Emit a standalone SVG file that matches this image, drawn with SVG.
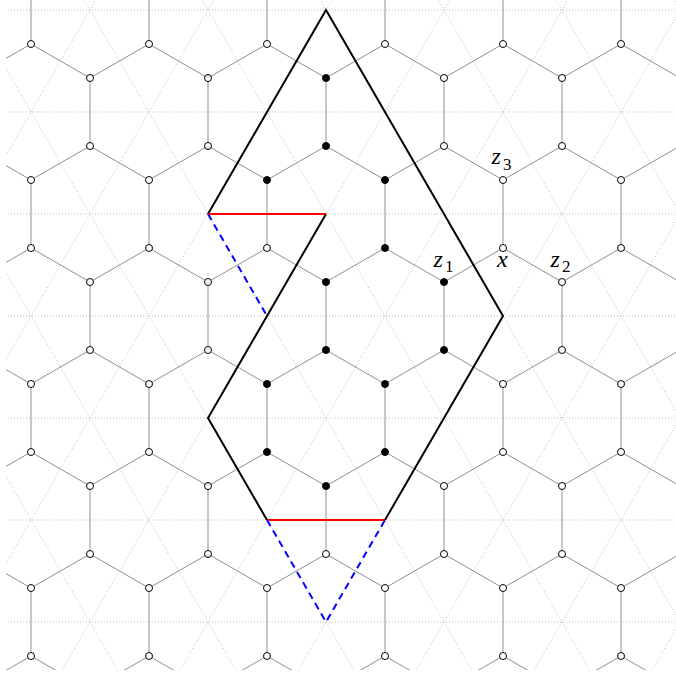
<svg xmlns="http://www.w3.org/2000/svg" width="676" height="676" viewBox="0 0 676 676">
<defs>
<clipPath id="clip"><rect x="6" y="-10" width="680" height="680"/></clipPath>
<style>
.grid{fill:none;stroke:#bdbdbd;stroke-width:1;stroke-dasharray:1 2}
.hex{fill:none;stroke:#8f8f8f;stroke-width:1}
.n{fill:#fff;stroke:#000;stroke-width:1}
.f{fill:#000;stroke:#000;stroke-width:1}
.poly{fill:none;stroke:#000;stroke-width:2;stroke-linejoin:miter}
.red{fill:none;stroke:#f00;stroke-width:2}
.blue{fill:none;stroke:#00f;stroke-width:2;stroke-dasharray:7 5}
</style>
</defs>
<rect x="0" y="0" width="676" height="676" fill="#fff"/>
<g id="background" clip-path="url(#clip)">
<path class="grid" d="M-100,10H800M-100,112H800M-100,214H800M-100,316H800M-100,418H800M-100,520H800M-100,622H800"/>
<path class="grid" d="M-441,-92L31,724M-323,-92L149,724M-205,-92L267,724M-87,-92L385,724M31,-92L503,724M149,-92L621,724M267,-92L739,724M385,-92L857,724M503,-92L975,724M621,-92L1093,724"/>
<path class="grid" d="M31,-92L-441,724M149,-92L-323,724M267,-92L-205,724M385,-92L-87,724M503,-92L31,724M621,-92L149,724M739,-92L267,724M857,-92L385,724M975,-92L503,724M1093,-92L621,724"/>
<path class="hex" d="M-28,78L31,44L90,78L149,44L208,78L267,44L326,78L385,44L444,78L503,44L562,78L621,44L680,78
M-28,146L31,180L90,146L149,180L208,146L267,180L326,146L385,180L444,146L503,180L562,146L621,180L680,146
M-28,282L31,248L90,282L149,248L208,282L267,248L326,282L385,248L444,282L503,248L562,282L621,248L680,282
M-28,350L31,384L90,350L149,384L208,350L267,384L326,350L385,384L444,350L503,384L562,350L621,384L680,350
M-28,486L31,452L90,486L149,452L208,486L267,452L326,486L385,452L444,486L503,452L562,486L621,452L680,486
M-28,554L31,588L90,554L149,588L208,554L267,588L326,554L385,588L444,554L503,588L562,554L621,588L680,554
M-28,690L31,656L90,690L149,656L208,690L267,656L326,690L385,656L444,690L503,656L562,690L621,656L680,690"/>
<path class="hex" d="M31,-24V44M149,-24V44M267,-24V44M385,-24V44M503,-24V44M621,-24V44
M90,78V146M208,78V146M326,78V146M444,78V146M562,78V146M680,78V146
M31,180V248M149,180V248M267,180V248M385,180V248M503,180V248M621,180V248
M90,282V350M208,282V350M326,282V350M444,282V350M562,282V350M680,282V350
M31,384V452M149,384V452M267,384V452M385,384V452M503,384V452M621,384V452
M90,486V554M208,486V554M326,486V554M444,486V554M562,486V554M680,486V554
M31,588V656M149,588V656M267,588V656M385,588V656M503,588V656M621,588V656"/>
</g>
<g id="nodes" clip-path="url(#clip)">
<g class="n">
<circle cx="31" cy="44" r="3.5"/><circle cx="149" cy="44" r="3.5"/><circle cx="267" cy="44" r="3.5"/><circle cx="385" cy="44" r="3.5"/><circle cx="503" cy="44" r="3.5"/><circle cx="621" cy="44" r="3.5"/>
<circle cx="90" cy="78" r="3.5"/><circle cx="208" cy="78" r="3.5"/><circle cx="444" cy="78" r="3.5"/><circle cx="562" cy="78" r="3.5"/><circle cx="680" cy="78" r="3.5"/>
<circle cx="90" cy="146" r="3.5"/><circle cx="208" cy="146" r="3.5"/><circle cx="444" cy="146" r="3.5"/><circle cx="562" cy="146" r="3.5"/><circle cx="680" cy="146" r="3.5"/>
<circle cx="31" cy="180" r="3.5"/><circle cx="149" cy="180" r="3.5"/><circle cx="503" cy="180" r="3.5"/><circle cx="621" cy="180" r="3.5"/>
<circle cx="31" cy="248" r="3.5"/><circle cx="149" cy="248" r="3.5"/><circle cx="267" cy="248" r="3.5"/><circle cx="503" cy="248" r="3.5"/><circle cx="621" cy="248" r="3.5"/>
<circle cx="90" cy="282" r="3.5"/><circle cx="208" cy="282" r="3.5"/><circle cx="562" cy="282" r="3.5"/><circle cx="680" cy="282" r="3.5"/>
<circle cx="90" cy="350" r="3.5"/><circle cx="208" cy="350" r="3.5"/><circle cx="562" cy="350" r="3.5"/><circle cx="680" cy="350" r="3.5"/>
<circle cx="31" cy="384" r="3.5"/><circle cx="149" cy="384" r="3.5"/><circle cx="503" cy="384" r="3.5"/><circle cx="621" cy="384" r="3.5"/>
<circle cx="31" cy="452" r="3.5"/><circle cx="149" cy="452" r="3.5"/><circle cx="503" cy="452" r="3.5"/><circle cx="621" cy="452" r="3.5"/>
<circle cx="90" cy="486" r="3.5"/><circle cx="208" cy="486" r="3.5"/><circle cx="444" cy="486" r="3.5"/><circle cx="562" cy="486" r="3.5"/><circle cx="680" cy="486" r="3.5"/>
<circle cx="90" cy="554" r="3.5"/><circle cx="208" cy="554" r="3.5"/><circle cx="326" cy="554" r="3.5"/><circle cx="444" cy="554" r="3.5"/><circle cx="562" cy="554" r="3.5"/><circle cx="680" cy="554" r="3.5"/>
<circle cx="31" cy="588" r="3.5"/><circle cx="149" cy="588" r="3.5"/><circle cx="267" cy="588" r="3.5"/><circle cx="385" cy="588" r="3.5"/><circle cx="503" cy="588" r="3.5"/><circle cx="621" cy="588" r="3.5"/>
<circle cx="31" cy="656" r="3.5"/><circle cx="149" cy="656" r="3.5"/><circle cx="267" cy="656" r="3.5"/><circle cx="385" cy="656" r="3.5"/><circle cx="503" cy="656" r="3.5"/><circle cx="621" cy="656" r="3.5"/>
</g>
<g class="f">
<circle cx="326" cy="78" r="3.5"/><circle cx="326" cy="146" r="3.5"/>
<circle cx="267" cy="180" r="3.5"/><circle cx="385" cy="180" r="3.5"/>
<circle cx="385" cy="248" r="3.5"/>
<circle cx="326" cy="282" r="3.5"/><circle cx="444" cy="282" r="3.5"/>
<circle cx="326" cy="350" r="3.5"/><circle cx="444" cy="350" r="3.5"/>
<circle cx="267" cy="384" r="3.5"/><circle cx="385" cy="384" r="3.5"/>
<circle cx="267" cy="452" r="3.5"/><circle cx="385" cy="452" r="3.5"/>
<circle cx="326" cy="486" r="3.5"/>
</g>
</g>
<g id="connectors">
<path class="poly" d="M208,214L326,10L503,316L385,520M267,520L208,418L326,214"/>
<path class="red" d="M326,214H208M267,520H385"/>
<path class="blue" d="M208,214L267,316M267,520L326,622L385,520"/>
</g>
<g id="labels" fill="#000" font-family="Liberation Serif, serif">
<text x="433.5" y="267" font-size="24" font-style="italic">z</text><text x="445" y="272" font-size="17">1</text>
<text x="550.5" y="267" font-size="24" font-style="italic">z</text><text x="562" y="272" font-size="17">2</text>
<text x="491.5" y="164" font-size="24" font-style="italic">z</text><text x="503" y="170" font-size="17">3</text>
<text x="497" y="267" font-size="24" font-style="italic">x</text>
</g>
</svg>
